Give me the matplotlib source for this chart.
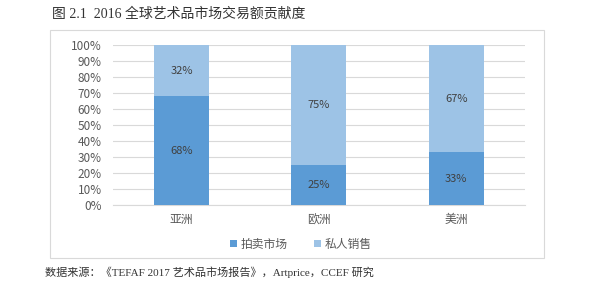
import matplotlib.pyplot as plt
import numpy as np
from matplotlib.patches import Rectangle

plt.rcParams['font.family'] = ['Noto Sans CJK SC', 'DejaVu Sans']

# data
regions = ["亚洲", "欧洲", "美洲"]
auction = [68, 25, 33]
private = [32, 75, 67]
series_names = ["拍卖市场", "私人销售"]

c_dark = "#5B9BD5"
c_light = "#9DC3E6"

fig = plt.figure(figsize=(6, 2.91), dpi=100)
ax = fig.add_axes([0.188, 0.296, 0.687, 0.549])

x = np.arange(len(regions))
b1 = ax.bar(x, auction, width=0.4, color=c_dark, zorder=3, label=series_names[0])
b2 = ax.bar(x, private, width=0.4, bottom=auction, color=c_light, zorder=3,
            label=series_names[1])

for bars, vals, bots in ((b1, auction, [0] * 3), (b2, private, auction)):
    for rect, v, b in zip(bars, vals, bots):
        ax.text(rect.get_x() + rect.get_width() / 2, b + v / 2, f"{v}%",
                ha="center", va="center", fontsize=8, color="#404040",
                zorder=4)

ax.set_ylim(0, 100)
ax.set_xlim(-0.5, 2.5)
ax.set_yticks(range(0, 101, 10))
ax.set_yticklabels([f"{t}%" for t in range(0, 101, 10)])
ax.set_xticks(x)
ax.set_xticklabels(regions)
ax.yaxis.grid(True, color="#D9D9D9", linewidth=0.8, zorder=0)
ax.tick_params(axis="y", length=0, labelsize=8.5, colors="#595959", pad=8)
ax.tick_params(axis="x", length=0, labelsize=8.5, colors="#595959", pad=6)
for s in ["top", "right", "left"]:
    ax.spines[s].set_visible(False)
ax.spines["bottom"].set_color("#D9D9D9")

ax.legend(loc="upper center", bbox_to_anchor=(0.456, -0.14), ncol=2, frameon=False,
          fontsize=8.5, handlelength=0.6, handleheight=0.6, handletextpad=0.3,
          columnspacing=2.2, labelcolor="#595959")

# outer box
fig.patches.append(Rectangle((50 / 600, 1 - 258 / 291), 494 / 600, 228 / 291,
                             transform=fig.transFigure, fill=False,
                             edgecolor="#D9D9D9", linewidth=0.8))

fig.text(52 / 600, 1 - 14 / 291, "图 2.1  2016 全球艺术品市场交易额贡献度",
         ha="left", va="center", fontsize=10, color="#333333",
         family=["Liberation Serif", "Noto Sans CJK SC"])
fig.text(45 / 600, 1 - 272 / 291,
         "数据来源：《TEFAF 2017 艺术品市场报告》，Artprice，CCEF 研究",
         ha="left", va="center", fontsize=8, color="#333333",
         family=["Liberation Serif", "Noto Sans CJK SC"])

fig.savefig("out.png", dpi=100)
